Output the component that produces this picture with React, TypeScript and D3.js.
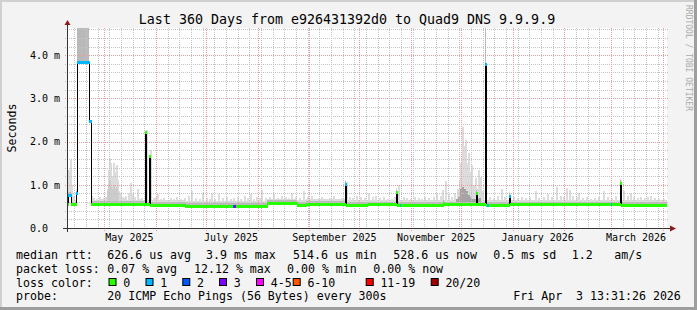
import React from 'react';
import * as d3 from 'd3';

// ---------- time frame ----------
const START = Date.UTC(2025, 3, 8, 13, 31, 26);
const END = Date.UTC(2026, 3, 3, 13, 31, 26);
const DAY = 86400000;
const YMAX = 4.63; // ms

// ---------- axis ticks ----------
const yTickValues = [0, 1, 2, 3, 4];
const yTickLabels = ['0.0', '1.0 m', '2.0 m', '3.0 m', '4.0 m'];
const xTickDates = ['2025-05-16', '2025-07-16', '2025-09-16', '2025-11-16', '2026-01-16', '2026-03-16'];
const xTickLabels = ['May 2025', 'July 2025', 'September 2025', 'November 2025', 'January 2026', 'March 2026'];

// ---------- median rtt (step changes: day since start, ms, loss class) ----------
const medianDay = [0, 0.8, 2.2, 5.2, 5.8, 12.9, 14.1, 46.8, 47.4, 49.2, 49.8, 70.8, 99.4, 100.4, 101.4, 119.8, 137.8, 143.4, 166.8, 167.4, 179.8, 197.4, 198.0, 199.8, 200.4, 225.6, 226.2, 245.4, 246.0, 250.8, 251.4, 252.0, 252.9, 265.0, 265.6, 326.2, 326.8, 331.8, 332.4];
const medianMs = [0.55, 0.77, 0.55, 0.80, 3.85, 2.47, 0.555, 2.22, 0.55, 1.67, 0.54, 0.52, 0.52, 0.52, 0.52, 0.58, 0.54, 0.56, 1.02, 0.54, 0.55, 0.83, 0.54, 0.54, 0.54, 0.59, 0.55, 0.82, 0.55, 3.79, 0.54, 0.54, 0.54, 0.74, 0.55, 0.55, 0.55, 1.04, 0.54];
const medianLoss = [0, 1, 0, 1, 1, 1, 0, 0, 0, 0, 0, 0, 2, 3, 0, 0, 0, 0, 1, 0, 0, 0, 0, 1, 0, 0, 0, 0, 0, 1, 0, 1, 0, 1, 0, 1, 0, 0, 0];

// ---------- smoke: max ping per spike (day, ms) ----------
const smokeDay = [0.3, 0.9, 1.8, 2.4, 3.6, 14.7, 15.6, 17.4, 19.2, 20.4, 21.6, 22.8, 24.0, 24.6, 25.2, 25.8, 26.4, 27.0, 27.6, 28.2, 28.8, 29.4, 30.0, 30.6, 31.8, 33.0, 34.2, 35.4, 36.6, 37.8, 39.0, 40.2, 42.0, 43.2, 44.4, 45.6, 47.4, 50.1, 51.6, 52.8, 54.0, 55.8, 57.6, 59.4, 61.8, 63.6, 65.4, 67.8, 70.2, 72.6, 74.8, 76.8, 79.2, 81.4, 83.4, 85.2, 86.8, 88.2, 90.8, 93.0, 95.4, 97.8, 100.2, 102.6, 104.4, 106.2, 108.0, 109.8, 111.6, 113.4, 115.2, 116.8, 118.8, 121.2, 123.8, 126.0, 128.4, 130.8, 132.6, 134.8, 136.8, 139.2, 141.8, 144.0, 146.4, 148.2, 150.6, 153.0, 155.4, 157.2, 159.6, 162.0, 164.4, 167.4, 169.2, 171.0, 173.4, 175.8, 178.2, 180.8, 183.0, 184.8, 187.2, 189.6, 192.0, 194.8, 196.2, 198.6, 201.6, 203.8, 205.8, 208.2, 210.6, 212.4, 214.2, 216.6, 219.8, 221.4, 223.8, 225.0, 226.8, 228.8, 230.4, 232.2, 234.0, 235.2, 236.1, 237.0, 237.9, 238.8, 239.7, 240.6, 241.8, 242.8, 243.6, 244.8, 245.8, 246.8, 247.8, 249.0, 253.8, 255.6, 258.0, 260.8, 262.8, 265.4, 267.6, 270.0, 272.4, 274.8, 277.2, 280.8, 283.2, 285.6, 288.2, 290.4, 293.8, 295.8, 297.6, 299.8, 301.2, 303.0, 305.8, 306.8, 309.0, 311.4, 313.8, 316.2, 318.6, 321.8, 324.0, 326.4, 328.8, 332.2, 333.8, 336.0, 337.8, 339.6, 342.0, 343.8, 346.2, 348.0, 349.8, 352.2, 354.6, 357.8];
const smokeMs = [0.7, 1.35, 1.58, 1.0, 0.75, 0.75, 0.7, 0.68, 0.72, 0.66, 0.7, 0.72, 0.9, 1.35, 1.62, 1.5, 1.2, 1.1, 1.5, 1.3, 1.25, 1.46, 1.1, 0.85, 0.8, 0.72, 0.7, 0.75, 0.82, 1.04, 0.78, 0.72, 0.9, 0.68, 0.7, 0.65, 2.26, 1.8, 0.7, 0.72, 0.78, 0.68, 0.7, 0.65, 0.7, 0.68, 0.72, 0.66, 0.7, 0.75, 0.85, 0.7, 0.68, 0.82, 0.7, 0.66, 0.8, 0.68, 0.78, 0.7, 0.72, 0.68, 0.7, 0.72, 0.66, 0.75, 0.7, 0.78, 0.68, 0.72, 0.7, 0.88, 0.7, 0.72, 0.78, 0.7, 0.74, 0.72, 0.7, 0.82, 0.72, 0.7, 0.85, 0.72, 0.73, 0.68, 0.7, 0.72, 0.66, 0.7, 0.75, 0.68, 0.7, 1.06, 0.72, 0.7, 0.75, 0.72, 0.7, 0.8, 0.72, 0.75, 0.7, 0.72, 0.68, 0.68, 0.72, 1.0, 0.72, 0.7, 0.68, 0.72, 0.7, 0.68, 0.72, 0.7, 0.72, 0.8, 0.75, 0.88, 1.08, 0.78, 0.72, 0.8, 0.9, 1.1, 1.5, 2.33, 1.9, 2.04, 1.5, 1.73, 1.3, 1.46, 1.0, 1.16, 0.9, 1.35, 1.19, 0.85, 0.72, 0.7, 0.75, 0.9, 0.72, 0.8, 0.72, 0.7, 0.72, 0.7, 0.72, 0.86, 0.7, 0.72, 0.78, 0.72, 0.95, 0.75, 0.72, 0.92, 0.88, 0.75, 0.72, 0.82, 0.7, 0.72, 0.68, 0.7, 0.72, 0.85, 0.72, 0.7, 0.75, 1.1, 0.86, 0.75, 0.82, 0.72, 0.7, 0.72, 0.7, 0.72, 0.75, 0.7, 0.68, 0.68];

// denser inner smoke (day, ms)
const midSmokeDay = [24.0, 24.6, 25.2, 25.8, 26.4, 27.0, 27.6, 28.2, 28.8, 29.4, 30.0];
const midSmokeMs = [0.85, 1.0, 1.1, 0.95, 0.9, 0.85, 1.0, 0.9, 0.85, 0.95, 0.8];
const darkSmokeDay = [233.4, 234.6, 235.8, 236.4, 237.0, 237.6, 238.2, 238.8, 239.4, 240.0, 240.6, 241.2, 242.4, 243.6, 244.8, 246.0, 247.2];
const darkSmokeMs = [0.68, 0.72, 0.8, 0.9, 0.95, 0.85, 0.9, 0.8, 0.76, 0.85, 0.76, 0.72, 0.68, 0.68, 0.66, 0.68, 0.7];

// ---------- legend ----------
const lossLabels = ['0', '1', '2', '3', '4-5', '6-10', '11-19', '20/20'];
const lossColors = ['#26ff00', '#00b8ff', '#0059ff', '#7e00ff', '#ff00ff', '#ff5500', '#ff0000', '#a00000'];
const rttStats = ['median rtt:', '626.6 us avg', '3.9 ms max', '514.6 us min', '528.6 us now', '0.5 ms sd', '1.2', 'am/s'];
const lossStats = ['packet loss:', '0.07 % avg', '12.12 % max', '0.00 % min', '0.00 % now'];
const probeInfo = ['probe:', '20 ICMP Echo Pings (56 Bytes) every 300s', 'Fri Apr  3 13:31:26 2026'];
const title = 'Last 360 Days from e926431392d0 to Quad9 DNS 9.9.9.9';

// ---------- layout ----------
const W = 697, H = 310;
const X0 = 67, X1 = 667, Y0 = 228, Y1 = 28;
const FONT = '"DejaVu Sans Mono", monospace';
const rttX = [16, 107.3, 206, 293, 393.3, 493.3, 571.7, 614.3];
const lossX = [16, 107.3, 194, 287, 373.3];
const probeX = [16, 107.3, 513.3];
const boxX = [108.5, 145.5, 182.3, 219, 256, 292.7, 365.7, 430.7];
const rowY = [259.2, 272.9, 286.6, 300.3];

export default function App() {
  const x = d3.scaleTime().domain([new Date(START), new Date(END)]).range([X0, X1]);
  const y = d3.scaleLinear().domain([0, YMAX]).range([Y0, Y1]);
  const dd = (d: number) => new Date(START + d * DAY);
  const xi = (d: number) => Math.round(x(dd(d)));
  const yi = (v: number) => Math.round(y(v));
  const px = (v: number) => Math.round(v) + 0.5;

  const medianAt = (d: number) => {
    const i = d3.bisectRight(medianDay, d) - 1;
    return medianMs[Math.max(0, i)];
  };

  const segs = medianDay.map((d, i) => ({
    x1: xi(d),
    x2: i + 1 < medianDay.length ? xi(medianDay[i + 1]) : X1,
    ms: medianMs[i],
    loss: medianLoss[i],
  }));

  const stepPts: [number, number][] = medianDay.map((d, i) => [xi(d) + 0.5, yi(medianMs[i]) + 0.5]);
  stepPts.push([X1, yi(medianMs[medianMs.length - 1]) + 0.5]);
  const stepPath = d3.line().curve(d3.curveStepAfter)(stepPts) || '';

  const minorY = d3.range(0, 24).map((i) => +(i * 0.2).toFixed(1)).filter((v) => v <= YMAX && Math.abs(v - Math.round(v)) > 1e-6);
  const majorXDates = d3.utcMonth.range(new Date(START), new Date(END));
  const majorSet = new Set(majorXDates.map((d) => d.getTime()));
  const minorXDates = d3.utcSunday.range(new Date(START), new Date(END)).filter((d) => !majorSet.has(d.getTime()));

  const minorColor = '#c4c4c4';
  const majorColor = '#f09c9c';

  const smokeRect = (d: number, v: number, key: string, fill: string) => {
    const m = medianAt(d);
    const top = yi(v);
    return <rect key={key} x={Math.floor(x(dd(d)))} width={2} y={top} height={Math.max(0, yi(m) - top)} fill={fill} />;
  };

  return (
    <svg width={W} height={H} style={{ position: 'absolute', left: 0, top: 0 }} fontFamily={FONT}>
      <defs>
        <clipPath id="plot">
          <rect x={X0 + 1} y={Y1} width={X1 - X0 - 1} height={Y0 - Y1} />
        </clipPath>
      </defs>
      <rect x={0} y={0} width={W} height={H} fill="#f3f3f3" />
      <rect x={0} y={0} width={W} height={2} fill="#d0d0d0" />
      <rect x={0} y={0} width={2} height={H} fill="#d0d0d0" />
      <rect x={0} y={H - 3} width={W} height={3} fill="#9e9e9e" />
      <rect x={W - 3} y={0} width={3} height={H} fill="#9e9e9e" />
      <rect x={X0} y={Y1} width={X1 - X0} height={Y0 - Y1} fill="#ffffff" />

      <g clipPath="url(#plot)">
        {segs.filter((s) => s.ms < 1.2).map((s, i) => (
          <rect key={'hz' + i} x={s.x1} width={Math.max(0, s.x2 - s.x1)} y={yi(s.ms + 0.1)} height={yi(s.ms) - yi(s.ms + 0.1)} fill="#dadada" />
        ))}
        {segs.filter((s) => s.ms > 3).map((s, i) => (
          <rect key={'hs' + i} x={s.x1} width={s.x2 - s.x1} y={Y1} height={yi(s.ms) - Y1} fill="#b9b9b9" />
        ))}
        {smokeDay.map((d, i) => smokeRect(d, smokeMs[i], 'sm' + i, '#dcdcdc'))}
        {midSmokeDay.map((d, i) => smokeRect(d, midSmokeMs[i], 'ms' + i, '#cbcbcb'))}
        {darkSmokeDay.map((d, i) => smokeRect(d, darkSmokeMs[i], 'ds' + i, '#a4a4a4'))}
        {segs.filter((s) => s.ms < 1.2).map((s, i) => (
          <rect key={'mb' + i} x={s.x1} width={Math.max(0, s.x2 - s.x1)} y={yi(s.ms + 0.06)} height={yi(s.ms) - yi(s.ms + 0.06)} fill="#bababa" />
        ))}
      </g>

      {/* grid */}
      {minorY.map((v) => (
        <line key={'gy' + v} x1={X0 - 2} x2={X1 + 2} y1={px(y(v))} y2={px(y(v))} stroke={minorColor} strokeDasharray="1,1" />
      ))}
      {minorXDates.map((t) => (
        <line key={'gx' + t.getTime()} x1={px(x(t))} x2={px(x(t))} y1={Y1} y2={Y0 + 2} stroke={minorColor} strokeDasharray="1,1" />
      ))}
      {yTickValues.map((v) => (
        <line key={'my' + v} x1={X0 - 2} x2={X1 + 2} y1={px(y(v))} y2={px(y(v))} stroke={majorColor} strokeDasharray="1,1" />
      ))}
      {majorXDates.map((t) => (
        <line key={'mx' + t.getTime()} x1={px(x(t))} x2={px(x(t))} y1={Y1} y2={Y0 + 3} stroke={majorColor} strokeDasharray="1,1" />
      ))}

      {/* median */}
      <g clipPath="url(#plot)">
        <path d={stepPath} fill="none" stroke="#000" strokeWidth={1} />
        {segs.map((s, i) => (
          <rect key={'md' + i} x={s.x1} width={Math.max(0, s.x2 - s.x1 + 1)} y={yi(s.ms) - 1} height={3} fill={lossColors[s.loss]} />
        ))}
      </g>

      {/* axes */}
      <line x1={X0 - 4} x2={X1 + 4} y1={Y0 + 0.5} y2={Y0 + 0.5} stroke="#333" />
      <line x1={X0 + 0.5} x2={X0 + 0.5} y1={Y0 + 4} y2={Y1 - 4} stroke="#333" />
      <path d={`M${X1 + 3},${Y0 - 2.5} L${X1 + 3},${Y0 + 3.5} L${X1 + 9},${Y0 + 0.5} Z`} fill="#8c1a1a" />
      <path d={`M${X0 - 2.5},${Y1 - 3} L${X0 + 3.5},${Y1 - 3} L${X0 + 0.5},${Y1 - 8} Z`} fill="#8c1a1a" />

      {/* tick labels */}
      {yTickValues.map((v, i) => (
        <text key={'yl' + v} x={30} y={y(v) + 3.8} fontSize={10} fill="#000">{yTickLabels[i]}</text>
      ))}
      {xTickDates.map((s, i) => (
        <text key={'xl' + s} x={x(new Date(s + 'T00:00:00Z'))} y={241.3} fontSize={10} textAnchor="middle" fill="#000">{xTickLabels[i]}</text>
      ))}

      {/* title & labels */}
      <text x={347} y={23.5} fontSize={13.3} textAnchor="middle" fill="#000">{title}</text>
      <text transform={`translate(15.5,128) rotate(-90)`} fontSize={11.6} textAnchor="middle" fill="#000">Seconds</text>
      <text transform={`translate(686,5) rotate(90)`} fontSize={8} fill="#aaaaaa">RRDTOOL / TOBI OETIKER</text>

      {/* legend */}
      {rttStats.map((t, i) => (
        <text key={'r' + i} x={rttX[i]} y={rowY[0]} fontSize={11.6} fill="#000" style={{ whiteSpace: 'pre' }}>{t}</text>
      ))}
      {lossStats.map((t, i) => (
        <text key={'l' + i} x={lossX[i]} y={rowY[1]} fontSize={11.6} fill="#000" style={{ whiteSpace: 'pre' }}>{t}</text>
      ))}
      <text x={16} y={rowY[2]} fontSize={11.6} fill="#000">loss color:</text>
      {lossLabels.map((t, i) => (
        <g key={'lc' + i}>
          <rect x={boxX[i] + 0.5} y={278.5} width={7} height={7} fill={lossColors[i]} stroke="#000" />
          <text x={boxX[i] + 14.7} y={rowY[2]} fontSize={11.6} fill="#000">{t}</text>
        </g>
      ))}
      {probeInfo.map((t, i) => (
        <text key={'p' + i} x={probeX[i]} y={rowY[3]} fontSize={11.6} fill="#000" style={{ whiteSpace: 'pre' }}>{t}</text>
      ))}
    </svg>
  );
}
